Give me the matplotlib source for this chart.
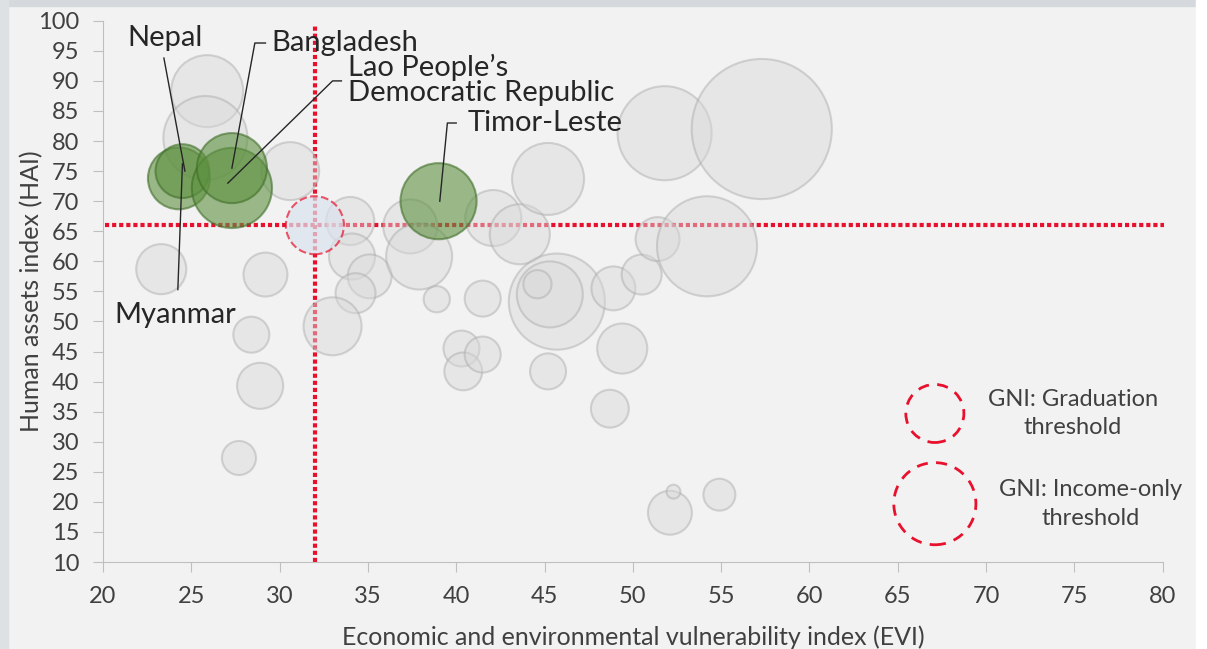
import matplotlib.pyplot as plt
from matplotlib.patches import Rectangle
import numpy as np

plt.rcParams['font.family'] = ['Lato', 'DejaVu Sans']

# other LDCs (grey bubbles): EVI, HAI, GNI per capita
evi = [25.9, 25.8, 30.6, 23.3, 29.2, 34.0, 34.1, 35.1, 34.3, 33.0,
       37.4, 37.9, 38.9, 41.5, 42.1, 43.6, 45.2, 45.7, 45.3, 44.6,
       48.9, 50.5, 51.4, 54.2, 51.8, 57.3, 40.3, 40.4, 41.5, 45.2,
       49.4, 48.7, 28.4, 28.9, 27.7, 52.1, 52.3, 54.9]
hai = [88.3, 80.5, 75.0, 58.7, 57.8, 66.7, 60.8, 57.5, 54.7, 49.2,
       65.8, 60.8, 53.7, 53.8, 67.2, 64.5, 73.7, 53.3, 54.5, 56.2,
       55.5, 57.8, 63.7, 62.5, 81.3, 82.0, 45.5, 41.7, 44.5, 41.7,
       45.5, 35.5, 47.8, 39.3, 27.3, 18.2, 21.7, 21.2]
gni = [1880, 2560, 1220, 910, 700, 840, 770, 700, 580, 1220,
       1060, 1580, 250, 470, 1140, 1310, 1880, 3350, 1580, 290,
       700, 580, 700, 3630, 3210, 7120, 470, 520, 470, 470,
       910, 520, 470, 770, 420, 700, 70, 370]

# highlighted countries
hl_names = ['Myanmar', 'Nepal', 'Lao', 'Bangladesh', 'Timor-Leste']
hl_evi = [24.3, 24.5, 27.3, 27.3, 39.0]
hl_hai = [73.8, 75.0, 72.2, 75.5, 70.0]
hl_gni = [1390, 1050, 2330, 1780, 2100]

# thresholds
evi_thr = 32
hai_thr = 66
gni_grad = 1222
gni_income = 2444

def size(v):
    return np.array(v) * 1.43

fig = plt.figure(figsize=(12.07, 6.49), dpi=100, facecolor='#f2f2f2')
fig.patches.append(Rectangle((0, 0.991), 1, 0.009, transform=fig.transFigure,
                             color='#d5d9dd', zorder=0))
fig.patches.append(Rectangle((0, 0), 0.007, 1, transform=fig.transFigure,
                             color='#dde1e4', zorder=0))
fig.patches.append(Rectangle((0.991, 0), 0.009, 1, transform=fig.transFigure,
                             color='#ffffff', zorder=0))

ax = fig.add_axes([0.0853, 0.134, 0.878, 0.834])
ax.set_facecolor('#f2f2f2')

ax.set_xlim(20, 80)
ax.set_ylim(10, 100)
ax.set_xticks(range(20, 81, 5))
ax.set_yticks(range(10, 101, 5))
for s in ['top', 'right']:
    ax.spines[s].set_visible(False)
for s in ['left', 'bottom']:
    ax.spines[s].set_color('#bfbfbf')
ax.tick_params(colors='#bfbfbf', labelcolor='#404040', labelsize=17,
               length=7, pad=10)

ax.set_xlabel('Economic and environmental vulnerability index (EVI)',
              fontsize=18, color='#404040')
ax.set_ylabel('Human assets index (HAI)', fontsize=18, color='#404040')
ax.xaxis.label.set_va('center')
ax.yaxis.label.set_va('center')
ax.xaxis.set_label_coords(0.5, -0.138)
ax.yaxis.set_label_coords(-0.067, 0.5)

# threshold lines
ax.plot([evi_thr, evi_thr], [10, 99.5], color='#e8112d', lw=3,
        linestyle=(0, (1, 0.7)), zorder=1, clip_on=False)
ax.plot([20.1, 80.1], [hai_thr, hai_thr], color='#e8112d', lw=3,
        linestyle=(0, (1, 0.7)), zorder=1, clip_on=False)

ax.scatter(evi, hai, s=size(gni), facecolor='#d9d9d9', alpha=0.45,
           edgecolor='#a8a8a8', linewidth=1.5, zorder=2)

ax.scatter(hl_evi, hl_hai, s=size(hl_gni), facecolor='#5e9140', alpha=0.6,
           edgecolor='#3f6e28', linewidth=1.5, zorder=3)

# graduation threshold bubble
ax.scatter([evi_thr], [hai_thr], s=size([gni_grad]), facecolor='#dbe3ee',
           alpha=0.7, edgecolor='#e8112d', linewidth=1.5, linestyle='--', zorder=3)

# legend bubbles
ax.scatter([67.1, 67.1], [34.7, 19.7], s=size([gni_grad, gni_income]),
           facecolor='none', edgecolor='#e8112d', linewidth=2,
           linestyle=(0, (4, 3)), zorder=3)
ax.text(74.9, 34.7, 'GNI: Graduation\nthreshold', fontsize=17, color='#404040',
        ha='center', va='center', linespacing=1.45)
ax.text(75.9, 19.7, 'GNI: Income-only\nthreshold', fontsize=17, color='#404040',
        ha='center', va='center', linespacing=1.45)

# labels with leader lines
lab = dict(fontsize=21, color='#262626', va='center')
line = dict(color='#262626', lw=1)

def leader(pts):
    xs, ys = zip(*pts)
    ax.plot(xs, ys, zorder=4, clip_on=False, **line)

ax.text(21.36, 97.2, 'Nepal', **lab)
leader([(23.45, 93.8), (24.64, 75.0)])
ax.text(29.56, 96.3, 'Bangladesh', **lab)
leader([(29.2, 96.3), (28.6, 96.3), (27.3, 75.5)])
ax.text(33.87, 90.25, "Lao People\u2019s\nDemocratic Republic", linespacing=0.95, **lab)
leader([(33.5, 90.0), (33.0, 90.0), (27.07, 73.0)])
ax.text(40.66, 83.0, 'Timor-Leste', **lab)
leader([(40.0, 83.0), (39.5, 83.0), (39.07, 70.0)])
ax.text(20.62, 51.0, 'Myanmar', **lab)
leader([(24.24, 55.3), (24.5, 76.2)])

fig.savefig('out.png', dpi=100, facecolor=fig.get_facecolor())
